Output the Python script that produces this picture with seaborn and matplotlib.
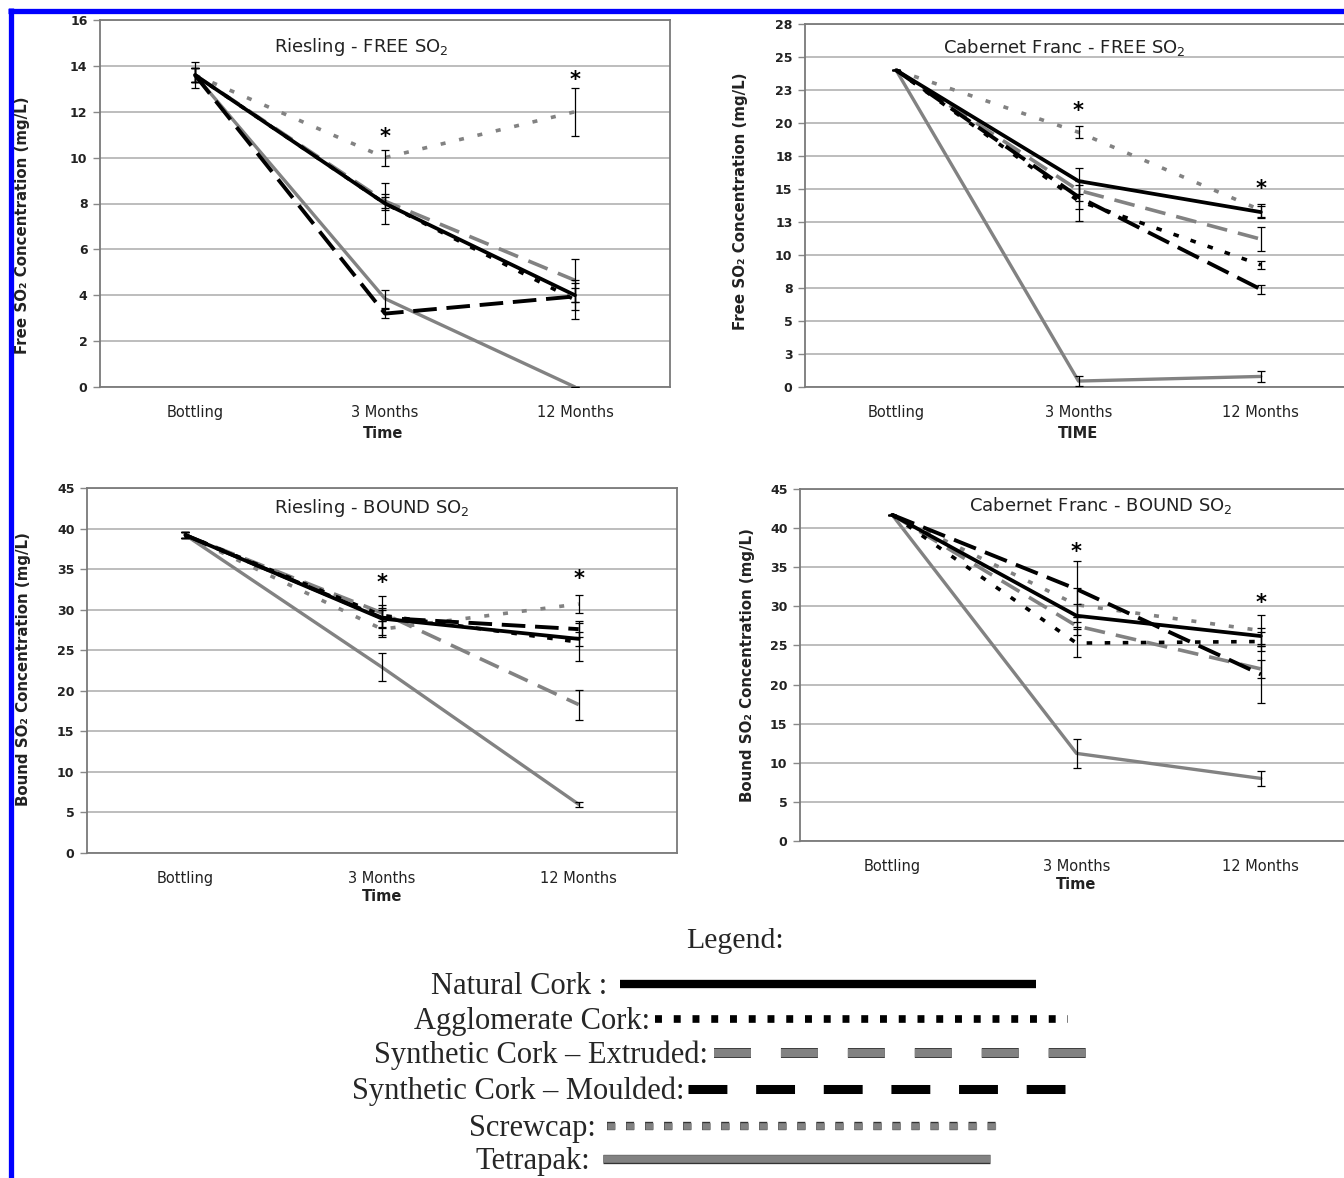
import numpy as np
import matplotlib
matplotlib.use("Agg")
import matplotlib.pyplot as plt
import matplotlib.patheffects as pe
from matplotlib.lines import Line2D
import seaborn as sns

# ---------------- data ----------------
categories = ["Bottling", "3 Months", "12 Months"]
closures = ["Natural Cork", "Agglomerate Cork", "Synthetic Cork – Extruded",
            "Synthetic Cork – Moulded", "Screwcap", "Tetrapak"]

# Riesling - FREE SO2 (rows follow `closures`)
rf_vals = [[13.6, 8.0, 4.0], [13.6, 8.0, 3.8], [13.6, 8.1, 4.65],
           [13.6, 3.2, 3.95], [13.6, 10.0, 12.0], [13.6, 3.85, 0.0]]
rf_err = [[0.55, 0.9, 0.3], [0.3, 0.3, 0.85], [0.3, 0.3, 0.95],
          [0.3, 0.2, 0.6], [0.3, 0.35, 1.05], [0.3, 0.4, 0.0]]
rf_stars = [10.9, 13.4]
rf_ticks = [0, 2, 4, 6, 8, 10, 12, 14, 16]
rf_ticklabels = ["0", "2", "4", "6", "8", "10", "12", "14", "16"]

# Cabernet Franc - FREE SO2
cf_vals = [[24.0, 15.6, 13.25], [24.0, 14.1, 9.25], [24.0, 14.9, 11.2],
           [24.0, 14.4, 7.4], [24.0, 19.3, 13.4], [24.0, 0.45, 0.8]]
cf_err = [[0, 1.0, 0.45], [0, 1.5, 0.3], [0, 0.8, 0.9],
          [0, 0.9, 0.35], [0, 0.45, 0.5], [0, 0.4, 0.45]]
cf_stars = [20.9, 15.0]
cf_ticks = [0, 2.5, 5, 7.5, 10, 12.5, 15, 17.5, 20, 22.5, 25, 27.5]
cf_ticklabels = ["0", "3", "5", "8", "10", "13", "15", "18", "20", "23", "25", "28"]

# Riesling - BOUND SO2
rb_vals = [[39.2, 28.9, 26.4], [39.2, 29.3, 26.0], [39.2, 29.6, 18.3],
           [39.2, 29.0, 27.6], [39.2, 27.6, 30.7], [39.2, 22.9, 6.0]]
rb_err = [[0.4, 1.0, 0.9], [0.4, 2.4, 2.3], [0.4, 1.0, 1.85],
          [0.4, 1.2, 1.0], [0.4, 1.0, 1.1], [0.4, 1.75, 0.3]]
rb_stars = [33.3, 33.8]
rb_ticks = [0, 5, 10, 15, 20, 25, 30, 35, 40, 45]
rb_ticklabels = ["0", "5", "10", "15", "20", "25", "30", "35", "40", "45"]

# Cabernet Franc - BOUND SO2
cb_vals = [[41.7, 28.8, 26.2], [41.7, 25.3, 25.5], [41.7, 27.5, 22.0],
           [41.7, 32.2, 21.3], [41.7, 30.2, 26.9], [41.7, 11.2, 8.0]]
cb_err = [[0, 1.5, 1.0], [0, 1.8, 1.2], [0, 1.2, 1.2],
          [0, 3.6, 3.6], [0, 2.2, 2.0], [0, 1.9, 0.95]]
cb_stars = [37.0, 30.4]
cb_ticks = [0, 5, 10, 15, 20, 25, 30, 35, 40, 45]
cb_ticklabels = ["0", "5", "10", "15", "20", "25", "30", "35", "40", "45"]

# ---------------- style ----------------
sns.set_style("white")
plt.rcParams["font.family"] = ["DejaVu Sans"]
plt.rcParams["lines.scale_dashes"] = False
plt.rcParams["mathtext.fontset"] = "dejavusans"

GRAY = "#828282"
styles = [
    dict(color="black", lw=2.7, ls="-"),                 # Natural
    dict(color="black", lw=2.6, ls=(0, (4.0, 9.0))),     # Agglomerate
    dict(color=GRAY, lw=2.6, ls=(0, (15, 8))),           # Extruded
    dict(color="black", lw=2.8, ls=(0, (17, 7))),        # Moulded
    dict(color=GRAY, lw=2.6, ls=(0, (3.6, 10))),         # Screwcap
    dict(color=GRAY, lw=2.4, ls="-"),                    # Tetrapak
]
draw_order = [4, 5, 2, 1, 3, 0]

W, H = 1344, 1178
fig = plt.figure(figsize=(W / 100, H / 100), dpi=100)


def px_box(left, right, top, bottom):
    return [left / W, 1 - bottom / H, (right - left) / W, (bottom - top) / H]


panels = [
    dict(box=px_box(100, 670, 20, 387), vals=rf_vals, err=rf_err, stars=rf_stars,
         ticks=rf_ticks, labels=rf_ticklabels, title="Riesling - FREE SO$_2$",
         tpos=(0.458, 0.926), ylabel="Free SO₂ Concentration (mg/L)",
         ylpos=(-0.122, 0.44), xlabel="Time", xlpos=(0.496, -0.105)),
    dict(box=px_box(805, 1352, 24, 387), vals=cf_vals, err=cf_err, stars=cf_stars,
         ticks=cf_ticks, labels=cf_ticklabels, title="Cabernet Franc - FREE SO$_2$",
         tpos=(0.4735, 0.934), ylabel="Free SO₂ Concentration (mg/L)",
         ylpos=(-0.105, 0.512), xlabel="TIME", xlpos=(0.499, -0.107)),
    dict(box=px_box(87, 677, 488, 853), vals=rb_vals, err=rb_err, stars=rb_stars,
         ticks=rb_ticks, labels=rb_ticklabels, title="Riesling - BOUND SO$_2$",
         tpos=(0.483, 0.945), ylabel="Bound SO₂ Concentration (mg/L)",
         ylpos=(-0.095, 0.504), xlabel="Time", xlpos=(0.5, -0.098)),
    dict(box=px_box(800, 1353, 489, 841), vals=cb_vals, err=cb_err, stars=cb_stars,
         ticks=cb_ticks, labels=cb_ticklabels, title="Cabernet Franc - BOUND SO$_2$",
         tpos=(0.544, 0.952), ylabel="Bound SO₂ Concentration (mg/L)",
         ylpos=(-0.082, 0.5), xlabel="Time", xlpos=(0.499, -0.101)),
]

xpos = np.arange(len(categories))

for p in panels:
    ax = fig.add_axes(p["box"])
    for i in draw_order:
        st = styles[i]
        sns.lineplot(x=xpos, y=p["vals"][i], ax=ax, color=st["color"],
                     linewidth=st["lw"], linestyle=st["ls"], sort=False,
                     estimator=None, legend=False, zorder=3 + (i == 0))
    for i in range(len(closures)):
        ax.errorbar(xpos, p["vals"][i], yerr=p["err"][i], fmt="none",
                    ecolor="black", elinewidth=0.9, capsize=3, capthick=0.9,
                    zorder=6)
    for k, yv in enumerate(p["stars"]):
        ax.text(xpos[k + 1], yv, "*", ha="center", va="center",
                fontsize=15, fontweight="bold", color="black", zorder=7)
    ax.set_xlim(-0.5, len(categories) - 0.5)
    ax.set_ylim(p["ticks"][0], p["ticks"][-1])
    ax.set_yticks(p["ticks"])
    ax.set_yticklabels(p["labels"], fontsize=9, fontweight="bold", color="#222222")
    ax.set_xticks(xpos)
    ax.set_xticklabels(categories, fontsize=10.5, color="#222222")
    ax.set_xticks(np.arange(-0.5, len(categories), 1.0), minor=True)
    ax.tick_params(axis="x", which="major", length=0, pad=13)
    ax.tick_params(axis="x", which="minor", length=5, width=1, color="#888888",
                   direction="out")
    ax.tick_params(axis="y", which="major", length=5, width=1, color="#888888",
                   direction="out", pad=4, left=True)
    ax.yaxis.grid(True, color="#b8b8b8", lw=1.3)
    ax.xaxis.grid(False)
    ax.set_axisbelow(True)
    for s in ax.spines.values():
        s.set_visible(True)
        s.set_color("#7a7a7a")
        s.set_linewidth(1.3)
    ax.text(p["tpos"][0], p["tpos"][1], p["title"], transform=ax.transAxes,
            ha="center", va="center", fontsize=13, color="#222222")
    ax.set_ylabel(p["ylabel"], fontsize=10.8, fontweight="bold", color="#222222")
    ax.yaxis.set_label_coords(*p["ylpos"])
    ax.set_xlabel(p["xlabel"], fontsize=10.5, fontweight="bold", color="#222222")
    ax.xaxis.set_label_coords(*p["xlpos"])

# ---------------- legend (drawn as a figure key) ----------------
SERIF = ["Liberation Serif", "DejaVu Serif"]
fig.text(735 / W, 1 - 948 / H, "Legend:", ha="center", va="baseline",
         fontsize=21.5, family=SERIF)

legend_rows = [
    # (label, text right edge, line start, line end, y)
    ("Natural Cork :", 607, 620, 1036, 984),
    ("Agglomerate Cork:", 650, 655, 1068, 1019),
    ("Synthetic Cork – Extruded:", 708, 714, 1088, 1053),
    ("Synthetic Cork – Moulded:", 684, 688, 1065, 1089),
    ("Screwcap:", 596, 607, 996, 1126),
    ("Tetrapak:", 590, 603, 990, 1159),
]
legend_styles = [
    dict(color="black", ls="-", lw=6.0, outline=False),
    dict(color="black", ls=(0, (5.0, 8.5)), lw=5.5, outline=False),
    dict(color=GRAY, ls=(0, (26.6, 21.6)), lw=6.0, outline=True),
    dict(color="black", ls=(0, (28.0, 20.7)), lw=6.5, outline=False),
    dict(color=GRAY, ls=(0, (5.8, 7.9)), lw=4.8, outline=True),
    dict(color=GRAY, ls="-", lw=5.5, outline=True),
]
for (label, tx, x0, x1, y), st in zip(legend_rows, legend_styles):
    fig.text(tx / W, 1 - (y + 10) / H, label, ha="right", va="baseline",
             fontsize=22, family=SERIF)
    ln = Line2D([x0 / W, x1 / W], [1 - y / H, 1 - y / H], transform=fig.transFigure,
                color=st["color"], lw=st["lw"], linestyle=st["ls"],
                solid_capstyle="butt", dash_capstyle="butt")
    if st["outline"]:
        ln.set_path_effects([pe.Stroke(linewidth=st["lw"] + 1.2, foreground="#333333"),
                             pe.Normal()])
    fig.add_artist(ln)

# ---------------- blue frame ----------------
fig.add_artist(Line2D([8 / W, 1.0], [1 - 10.5 / H, 1 - 10.5 / H],
                      transform=fig.transFigure, color="#0000ff", lw=3.8,
                      solid_capstyle="butt"))
fig.add_artist(Line2D([10.5 / W, 10.5 / W], [1 - 8 / H, 0.0],
                      transform=fig.transFigure, color="#0000ff", lw=3.8,
                      solid_capstyle="butt"))

fig.savefig("out.png", dpi=100, facecolor="white")
